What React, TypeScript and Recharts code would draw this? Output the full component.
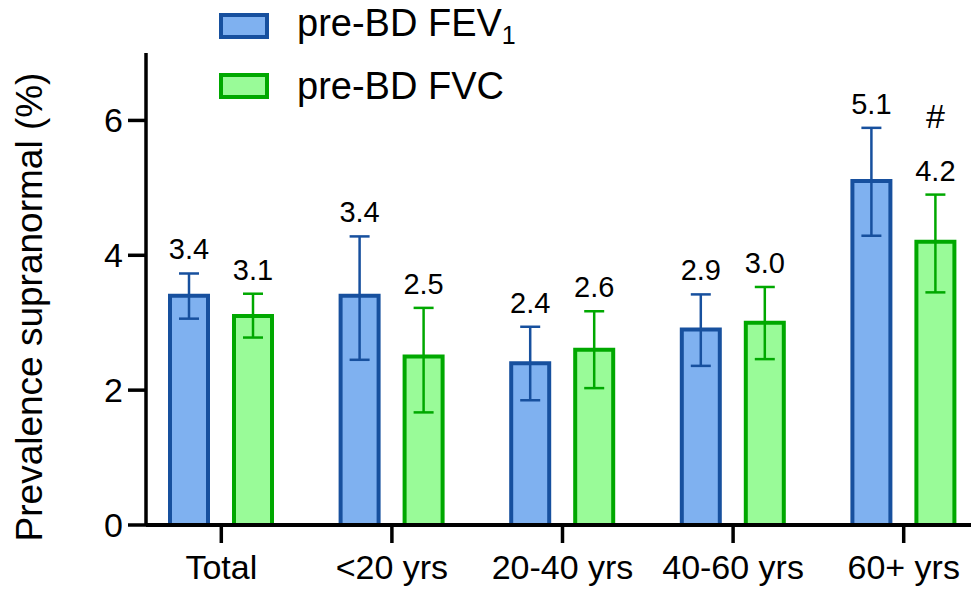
import React from "react";
import { BarChart, Bar, XAxis, YAxis, ErrorBar } from "recharts";

const groups = ["Total", "<20 yrs", "20-40 yrs", "40-60 yrs", "60+ yrs"];

// prevalence with 95% CI bounds
const fev1 = [3.4, 3.4, 2.4, 2.9, 5.1];
const fev1Low = [3.06, 2.45, 1.85, 2.36, 4.29];
const fev1High = [3.73, 4.28, 2.94, 3.42, 5.89];

const fvc = [3.1, 2.5, 2.6, 3.0, 4.2];
const fvcLow = [2.78, 1.67, 2.03, 2.46, 3.45];
const fvcHigh = [3.43, 3.22, 3.17, 3.53, 4.9];
const fvcMarks = ["", "", "", "", "#"];

const yTicks = [0, 2, 4, 6];

const FONT = "Arial, 'Liberation Sans', Helvetica, sans-serif";
const BLUE_FILL = "#7fb1f0";
const BLUE_LINE = "#17509e";
const GREEN_FILL = "#99fb98";
const GREEN_LINE = "#00a800";

const data = groups.map((group, i) => ({
  group,
  fev1: fev1[i],
  fev1Err: [fev1[i] - fev1Low[i], fev1High[i] - fev1[i]],
  fvc: fvc[i],
  fvcErr: [fvc[i] - fvcLow[i], fvcHigh[i] - fvc[i]],
}));

const upperOf = (values: number[], high: number[]) =>
  values.map((v, i) => high[i] - v);

// value text sits just above the upper whisker
const valueLabel =
  (upper: number[], marks?: string[]) =>
  (props: any) => {
    const { x, y, width, height, value, index } = props;
    const pxPerUnit = Number(height) / Number(value);
    const top = Number(y) - upper[index] * pxPerUnit;
    const cx = Number(x) + Number(width) / 2;
    return (
      <g>
        <text
          x={cx}
          y={top - 14}
          textAnchor="middle"
          fontSize={29}
          fontFamily={FONT}
          fill="#000"
        >
          {Number(value).toFixed(1)}
        </text>
        {marks && marks[index] ? (
          <text
            x={cx}
            y={top - 67}
            textAnchor="middle"
            fontSize={34}
            fontFamily={FONT}
            fill="#000"
          >
            {marks[index]}
          </text>
        ) : null}
      </g>
    );
  };

const yTitle = (props: any) => {
  const vb = props.viewBox;
  const cx = vb.x + 42;
  const cy = vb.y + vb.height / 2 + 18;
  return (
    <text
      x={cx}
      y={cy}
      transform={`rotate(-90, ${cx}, ${cy})`}
      textAnchor="middle"
      fontSize={37}
      fontFamily={FONT}
      fill="#000"
    >
      Prevalence supranormal (%)
    </text>
  );
};

const legendItems = [
  { name: "pre-BD FEV", sub: "1", fill: BLUE_FILL, line: BLUE_LINE },
  { name: "pre-BD FVC", sub: "", fill: GREEN_FILL, line: GREEN_LINE },
];

function ChartLegend() {
  return (
    <div
      style={{
        position: "absolute",
        left: 219,
        top: -4,
        fontFamily: FONT,
        fontSize: 38,
        color: "#000",
      }}
    >
      {legendItems.map((item) => (
        <div
          key={item.name}
          style={{ display: "flex", alignItems: "center", height: 60 }}
        >
          <span
            style={{
              display: "inline-block",
              boxSizing: "border-box",
              width: 50,
              height: 26,
              background: item.fill,
              border: `4px solid ${item.line}`,
              marginRight: 28,
            }}
          />
          <span style={{ lineHeight: 1 }}>
            {item.name}
            {item.sub ? (
              <sub style={{ fontSize: 25, verticalAlign: -8 }}>{item.sub}</sub>
            ) : null}
          </span>
        </div>
      ))}
    </div>
  );
}

export default function App() {
  return (
    <div
      style={{
        position: "absolute",
        left: 0,
        top: 0,
        width: 971,
        height: 592,
        background: "#fff",
        overflow: "hidden",
      }}
    >
      <BarChart
        width={971}
        height={592}
        data={data}
        margin={{ top: 53, right: 0, bottom: 7, left: 0 }}
        barSize={38}
        barGap={26}
      >
        <XAxis
          dataKey="group"
          height={60}
          padding={{ left: -10, right: -18 }}
          axisLine={{ stroke: "#000", strokeWidth: 4 }}
          tickLine={{ stroke: "#000", strokeWidth: 3.5 }}
          tickSize={18}
          tickMargin={12}
          tick={{ fill: "#000", fontSize: 34, fontFamily: FONT }}
          interval={0}
        />
        <YAxis
          width={146}
          domain={[0, 7]}
          ticks={yTicks}
          allowDataOverflow
          axisLine={{ stroke: "#000", strokeWidth: 3.5 }}
          tickLine={{ stroke: "#000", strokeWidth: 3.5 }}
          tickSize={18}
          tickMargin={5}
          tick={{ fill: "#000", fontSize: 34, fontFamily: FONT }}
          label={yTitle}
        />
        <Bar
          dataKey="fev1"
          fill={BLUE_FILL}
          stroke={BLUE_LINE}
          strokeWidth={4}
          isAnimationActive={false}
          label={valueLabel(upperOf(fev1, fev1High))}
        >
          <ErrorBar
            dataKey="fev1Err"
            width={10}
            stroke={BLUE_LINE}
            strokeWidth={2.5}
            isAnimationActive={false}
          />
        </Bar>
        <Bar
          dataKey="fvc"
          fill={GREEN_FILL}
          stroke={GREEN_LINE}
          strokeWidth={4}
          isAnimationActive={false}
          label={valueLabel(upperOf(fvc, fvcHigh), fvcMarks)}
        >
          <ErrorBar
            dataKey="fvcErr"
            width={10}
            stroke={GREEN_LINE}
            strokeWidth={2.5}
            isAnimationActive={false}
          />
        </Bar>
      </BarChart>
      <ChartLegend />
    </div>
  );
}
